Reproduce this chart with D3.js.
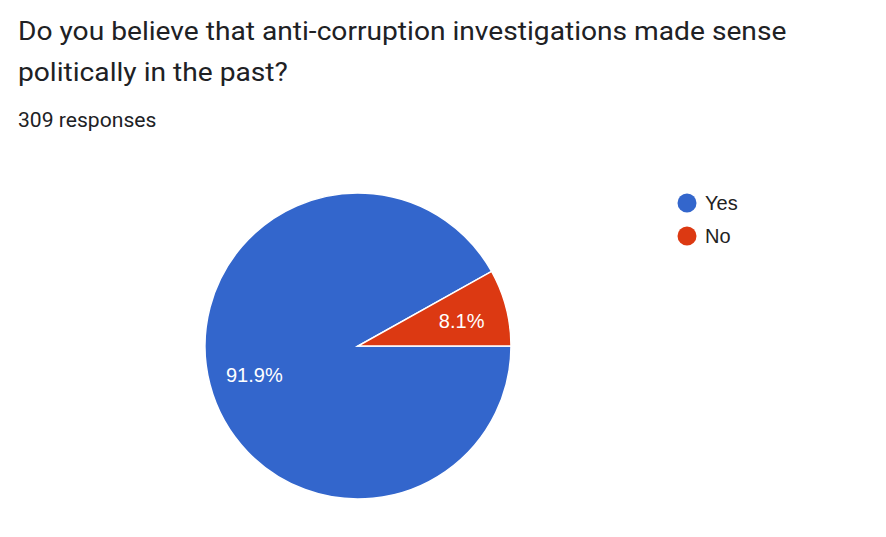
<!DOCTYPE html>
<html><head><meta charset="utf-8">
<script src="https://cdn.jsdelivr.net/npm/d3@7"></script>
<style>body{margin:0;background:#fff;}svg{display:block;}</style>
</head><body>
<svg id="c" width="886" height="537"></svg>
<script>
const categories = ["Yes", "No"];
const values = [91.9, 8.1];
const labels = ["91.9%", "8.1%"];
const colors = ["#3366cc", "#dc3912"];
const titleLines = ["Do you believe that anti-corruption investigations made sense", "politically in the past?"];
const subtitle = "309 responses";

const svg = d3.select("#c");
const hg = svg.append("g").attr("transform", "translate(18,0) scale(1.083,1)");
hg.selectAll("text.title").data(titleLines).join("text")
  .attr("x", 0).attr("y", (d,i) => 40 + i*41)
  .attr("font-family", "Roboto").attr("font-size", 26).attr("fill", "#202124")
  .text(d => d);
hg.append("text").attr("x", 0).attr("y", 127)
  .attr("font-family", "Roboto").attr("font-size", 19.5).attr("fill", "#202124").text(subtitle);

const cx = 358, cy = 346, r = 153;
const pie = d3.pie().sort(null).startAngle(Math.PI/2).endAngle(Math.PI/2 + 2*Math.PI)(values);
const arc = d3.arc().innerRadius(0).outerRadius(r);
const g = svg.append("g").attr("transform", `translate(${cx},${cy})`);
g.selectAll("path").data(pie).join("path")
  .attr("d", arc).attr("fill", (d,i) => colors[i])
  .attr("stroke", "#fff").attr("stroke-width", 1.5);
const labelArc = d3.arc().innerRadius(r*0.7).outerRadius(r*0.7);
g.selectAll("text").data(pie).join("text")
  .attr("transform", d => `translate(${labelArc.centroid(d)})`)
  .attr("text-anchor", "middle").attr("dy", "0.45em")
  .attr("font-family", "Liberation Sans, Arial").attr("font-size", 20).attr("fill", "#fff")
  .text((d,i) => labels[i]);

const lg = svg.append("g");
categories.forEach((c,i) => {
  lg.append("circle").attr("cx", 687).attr("cy", 203 + i*33).attr("r", 9.5).attr("fill", colors[i]);
  lg.append("text").attr("x", 705).attr("y", 203 + i*33).attr("dy", "0.35em")
    .attr("font-family", "Liberation Sans, Arial").attr("font-size", 20).attr("fill", "#222").text(c);
});
</script>
</body></html>
